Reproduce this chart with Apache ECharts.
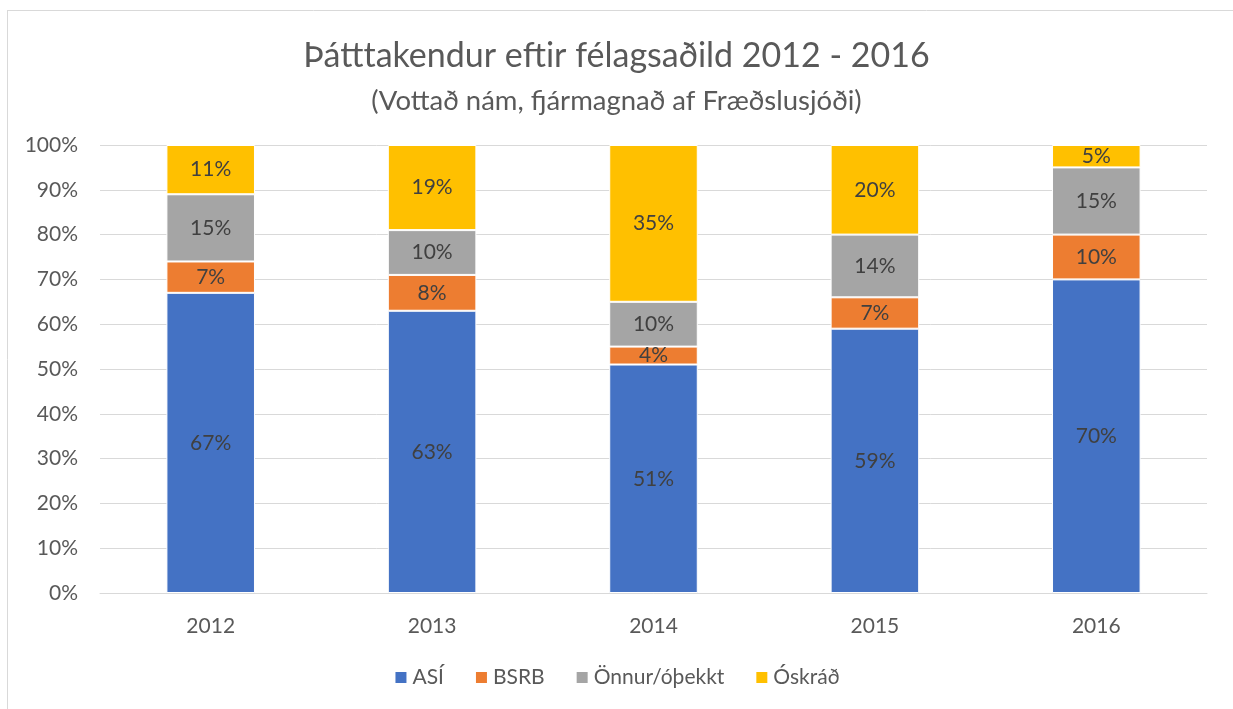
<!DOCTYPE html>
<html><head><meta charset="utf-8">
<script src="https://cdn.jsdelivr.net/npm/echarts@6/dist/echarts.min.js"></script>
<style>html,body{margin:0;padding:0;background:#fff}#c{width:1233px;height:709px}</style>
</head><body><div id="c"></div>
<script>
const categories = ['2012','2013','2014','2015','2016'];
const asi = [67,63,51,59,70];
const bsrb = [7,8,4,7,10];
const onnur = [15,10,10,14,15];
const oskrad = [11,19,35,20,5];
const seriesNames = ['ASÍ','BSRB','Önnur/óþekkt','Óskráð'];
const colors = ['#4472C4','#ED7D31','#A5A5A5','#FFC000'];
const yTicks = [0,10,20,30,40,50,60,70,80,90,100];

const chart = echarts.init(document.getElementById('c'));
const font = 'Lato, Liberation Sans, sans-serif';
function mk(name, data, color){
  return {name, type:'bar', stack:'t', data, barWidth:'40%',
    itemStyle:{color, borderColor:'#fff', borderWidth:1},
    label:{show:true, position:'inside', formatter:'{c}%', color:'#404040', fontSize:21, fontFamily:font}};
}
chart.setOption({
  animation:false,
  color:colors,
  title:[{text:'Þátttakendur eftir félagsaðild 2012 - 2016', left:'center', top:34,
     textStyle:{fontSize:34, fontWeight:'normal', color:'#595959', fontFamily:font}},
    {text:'(Vottað nám, fjármagnað af Fræðslusjóði)', left:'center', top:82,
     textStyle:{fontSize:27.5, fontWeight:'normal', color:'#595959', fontFamily:font}}],
  grid:{left:100, right:26, top:145, bottom:116},
  legend:{data:seriesNames, bottom:16, left:'center', itemWidth:13, itemHeight:13, itemGap:30,
    icon:'rect', textStyle:{fontSize:21, color:'#595959', fontFamily:font}},
  xAxis:{type:'category', data:categories,
    axisLine:{lineStyle:{color:'#d9d9d9'}}, axisTick:{show:false},
    axisLabel:{fontSize:21, color:'#595959', margin:23, fontFamily:font}},
  yAxis:{type:'value', min:0, max:100, interval:10,
    axisLabel:{formatter:v=>v+'%', fontSize:21, color:'#595959', margin:22, fontFamily:font},
    splitLine:{lineStyle:{color:'#d9d9d9'}}, axisLine:{show:false}, axisTick:{show:false}},
  series:[mk(seriesNames[0],asi,colors[0]), mk(seriesNames[1],bsrb,colors[1]),
          mk(seriesNames[2],onnur,colors[2]), mk(seriesNames[3],oskrad,colors[3])],
  graphic:[
    {type:'line', shape:{x1:7.5,y1:10,x2:7.5,y2:709}, style:{stroke:'#d9d9d9', lineWidth:1}},
    {type:'line', shape:{x1:7,y1:10.5,x2:1233,y2:10.5}, style:{stroke:'#d9d9d9', lineWidth:1}}
  ]
});
</script></body></html>
